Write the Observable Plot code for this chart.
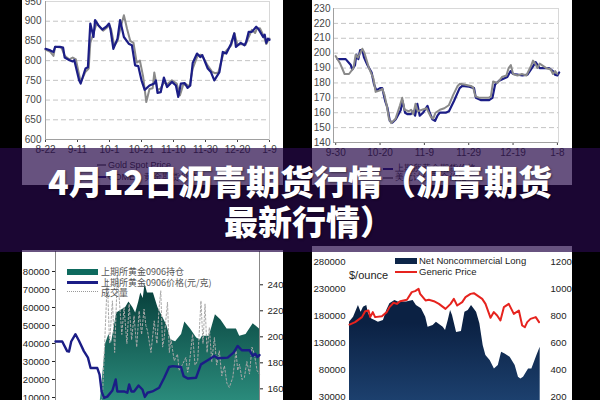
<!DOCTYPE html>
<html><head><meta charset="utf-8">
<script src="https://cdn.jsdelivr.net/npm/d3@7"></script>
<script src="https://cdn.jsdelivr.net/npm/@observablehq/plot@0.6"></script>
<style>
html,body{margin:0;padding:0;background:#000;}
#root{position:relative;width:600px;height:400px;overflow:hidden;background:#000;font-family:"Liberation Sans",Arial,sans-serif;}
.panel{position:absolute;background:#fff;overflow:hidden;}
.panel svg{position:absolute;left:0;top:0;}
.lg{position:absolute;font-size:9px;color:#333;white-space:nowrap;line-height:10px;}
.sw{position:absolute;}
#overlay{position:absolute;left:0;top:148px;width:600px;height:104px;background:rgba(38,8,72,0.7);}
#title{position:absolute;left:0;top:161px;width:600px;text-align:center;color:#fff;font-family:"Noto Sans CJK SC","Noto Sans",sans-serif;font-weight:900;font-size:34px;line-height:40px;text-shadow:1px 1px 2px rgba(0,0,0,0.45);}
#title .l2{position:relative;left:9px;}
</style></head>
<body><div id="root">
<div class="panel" id="p1" style="left:22px;top:0;width:261px;height:185px;"></div>
<div class="panel" id="p2" style="left:312px;top:0;width:260px;height:185px;"></div>
<div class="panel" id="p3" style="left:22px;top:250px;width:261px;height:150px;"></div>
<div class="panel" id="p4" style="left:312px;top:246px;width:260px;height:154px;"></div>
<div id="overlay"></div>
<div id="title">4月12日沥青期货行情（沥青期货<br><span class="l2">最新行情）</span></div>
</div>
<script>
// ---------- Panel 1 (top-left): gold price, 8-22 .. 1-9 ----------
const p1TickDays = [0, 20, 40, 60, 80, 100, 120, 140];
const p1TickLabels = ["8-22", "9-11", "10-1", "10-21", "11-10", "11-30", "12-20", "1-9"];
const p1YTicks = [600, 650, 700, 750, 800, 850, 900, 950];
const p1BlueDay = [0,3,5,6,9,11,12,15,17,18,21,22,25,26.5,28,30,31,33,35.5,38,39.7,40.7,42.4,45,46.6,49,52,54,56,58,60,62,65,68,69,70,72,74,76,79,81.5,83,84.6,87,88.8,90.5,92,94.7,96.7,98,101.4,103.4,105.5,108.7,110.8,113,116,118,119,122,124.4,125.4,127,129,131.7,133,136,137,138,139,140];
const p1BlueVal = [830,826,822,835,835,833,808,801,798,801,750,742,780,783,894,860,903,890,879,886,894,877,830,856,903,860,843,839,788,786,750,726,737,742,750,718,720,757,733,746,737,708,742,743,731,737,794,818,809,814,780,771,750,771,822,818,843,869,835,845,839,847,873,873,886,881,860,866,845,856,853];
const p1GrayDay = [0,3,5,6,10,12,15,17,19,22,25,27,28,30,32,34,36,38,40,41,43,45,47,49,51,53,55,57,59,61,63,65,67,68,70,72,74,76,79,82,84,86,88,90,92,95,97,99,101,104,106,108,111,113,116,118,120,122,125,127,129,131,132,134,136,137,138,139,140];
const p1GrayVal = [828,822,812,835,833,812,803,808,803,745,772,780,845,870,895,885,876,882,890,880,838,850,885,915,880,850,845,795,800,760,695,728,730,770,725,730,745,740,750,742,712,738,740,735,780,812,815,805,790,772,768,770,815,825,838,870,840,842,840,860,878,870,880,882,866,855,842,850,856];

// ---------- Panel 2 (top-right): 9-30 .. 1-8 ----------
const p2TickDays = [0, 20, 40, 60, 80, 100];
const p2TickLabels = ["9-30", "10-20", "11-9", "11-29", "12-19", "1-8"];
const p2YTicks = [140, 150, 160, 170, 180, 190, 200, 210, 220, 230];
const p2BlueDay = [0.8,1.5,4.5,6.8,7.5,8.7,9.3,10.2,11,12,12.8,14.3,16.2,17.3,18.3,20,21,22.3,23.3,24.4,25.6,27.1,29.3,30.1,31.3,32.3,33.8,35,35.8,36.8,37.9,39.4,41.4,42.4,43.6,44.8,45.9,46.9,49.6,51.1,53.4,55.9,57.1,60.2,62.4,63.2,65.4,69.2,70.7,71.9,73.7,75.9,77.4,78.9,80,82,84.2,86.5,88.7,90.2,92,96.2,98,98.9,100,100.8];
const p2BlueVal = [196,196,196,192,189,192,199,196,202,202,197,192,187,179,175,176.5,176.5,168,163.5,154.5,153.4,155.6,161.7,168,160,159,159,161,158,166,158,160,164.6,160,155.6,154.5,158,160,160,161,168,176.5,178,177.5,176.5,170,168.5,168.5,170,179,181.5,183,184,188,186,185.6,185,185.6,190.5,194,190,190,188,185.6,185,187];
const p2GrayDay = [0,2,4,6,8,9,10,11,12,13,15,17,18,20,21,22,23,24,25,27,29,30,31,33,34,35,36,37,39,41,42,43,44,45,47,49,51,53,55,56,58,61,62,63,65,69,70,71,73,75,77,78,79,80,82,84,86,88,89,90,91,92,95,97,98,99,100];
const p2GrayVal = [198,193,186,186,190,199,197,200,203,200,190,183,174,175,176,172,165,156,153,156,165,170,162,161,162,159,166,161,162,163,160,157,156,160,162,163,165,172,178,179.5,179,178,177,171,170,170,171,181,180,184,185,190,192,186,185,186,185,191,195,193,190,193,190,189,186,188,186];

// ---------- Panel 3 (bottom-left): SHFE gold 0906 ----------
const p3LeftTicks = [10000, 20000, 30000, 40000, 50000, 60000, 70000, 80000];
const p3RightTicks = [160, 180, 200, 220, 240];
const p3OIx = [21.3,24.6,26.2,27.4,28.5,30,31.6,34.4,36,37.9,39.3,40.8,41.8,43,43.9,45.1,48,50.2,54.6,56.6,58.9,61.8,63.4,66.2,69.2,71,72,75.4,78.4,81.1,84.1,88.7,90.3,93.4,96.9,99,100];
const p3OIy = [0,40000,45000,40000,47000,57000,58000,60000,63000,60000,57000,63000,68000,65000,73000,68000,68000,60000,50000,42000,41000,45000,52000,48000,43000,42000,44000,44000,56000,53000,48000,48000,44000,45000,51000,49000,48000];
const p3Px = [0,3.3,5.7,6.6,7.7,9.8,11.5,13.9,15.9,17.2,18.9,20.5,21.6,22.6,23.8,25.4,27.9,29.5,30.3,33.6,35.2,36.1,37.2,38.5,40.7,42.6,43.8,45.1,47.5,50.8,53.3,55.7,57.4,61.5,62.8,64.8,68.9,71.3,74.6,77.9,79.5,84.4,87.4,89.3,91.3,95.1,96.7,97.9,98.9,100];
const p3Py = [196.4,196.4,189,188.6,196.4,202,197,189,184,176,176,176,171,158,153,154,158.7,167.2,158,158,157,163.4,158,158,162.6,159.5,153.8,157,158,160.8,168.5,176.8,177.5,176.8,169.8,168,168.5,178.8,182,185.3,183.5,184,188,193,189.7,189.7,185.3,187,184.5,186];
const p3Vx = [22,23,25.4,26.5,27.9,29,30.3,31.1,32.5,33.6,35,36.1,37.3,38.5,39.8,41,42.2,43.4,44.3,45.1,46.8,48.4,49.7,50.8,51.6,52.5,53.3,54.9,55.8,56.6,58.2,59.8,60.6,61.5,63.9,64.8,65.6,67.2,68.4,69.7,71.3,72.3,73.3,74.3,75.4,76.6,77.9,79,80.3,81.5,82.8,84,85.2,86.9,88.5,89.3,90.2,91.4,92.6,93.8,95.1,96.3,97.5,98.8,100];
const p3Vy = [8000,10000,75700,40000,63700,35000,77600,67400,45000,60000,40000,61900,42000,55400,38000,58100,45000,59100,50000,47000,35000,52600,40000,60000,69300,38000,43300,63000,35000,42400,30400,34100,25000,26700,32200,24000,28500,45200,28000,30400,63700,40000,62000,35000,48900,30000,43300,28000,35900,22000,27600,18000,15600,21100,35900,25000,28500,20000,21100,30000,23000,38000,34100,25000,23000];
const p3Legend = ["上期所黄金0906持仓", "上期所黄金0906价格(元/克)", "成交量"];

// ---------- Panel 4 (bottom-right): CFTC net long vs price ----------
const p4LeftTicks = [30000, 80000, 130000, 180000, 230000, 280000];
const p4RightTicks = [200, 400, 600, 800, 1000, 1200];
const p4Ax = [0,2.1,4.6,6,7.2,8.9,9.8,11.5,13.2,14.9,17.5,19.2,20.8,23.4,25.1,29.4,32.8,34.5,37.1,39.3,40.5,43.1,44.8,48.3,49.5,50.9,52.1,53.1,55.2,57.7,59.5,61.2,62.9,65.5,67.2,68.9,70.3,72.5,74.7,76.7,78.4,80.2,82.8,85.4,87.1,88.3,89.7,92.3,94,96.6,98.3];
const p4Ay = [168900,178000,199800,187400,196700,199800,184300,175000,172000,168900,172000,190500,202800,209000,206000,206000,209000,199800,193600,178000,159600,162700,168900,159600,153500,172000,190500,181200,150000,151600,187400,190500,199800,187400,165800,125700,107200,98000,82500,88600,113300,110000,104000,88600,67000,64000,67000,82500,82500,107200,122600];
const p4Px = [0,2.9,6.4,8.1,9.8,10.7,12,13.2,16.7,19.2,20.6,22.7,24.4,26.1,29.6,32.1,33.8,35.6,36.4,39.2,40.9,43.5,46.1,49.5,52.1,53.8,55.5,58.1,59.8,62.4,64.1,68.4,70.1,72.7,74.4,76.1,77.8,79.6,82.1,84.7,87.3,89,90.4,91.6,93.3,96,97.7];
const p4Py = [738,756,793,837,842,793,830,793,800,830,867,899,891,911,921,978,985,1002,965,916,921,911,891,854,891,928,879,904,941,965,970,928,891,788,830,805,768,867,891,817,842,731,719,756,780,793,756,817,872,842,842];
const p4Legend = ["Net Noncommercial Long", "Generic Price"];

// ---------- helpers ----------
const baseStyle = {background: "transparent", fontFamily: "Liberation Sans, Arial, sans-serif", fontSize: "10px", color: "#444", overflow: "visible"};
const lowStyle = {...baseStyle, fontSize: "9.6px", color: "#222"};
const plain = d3.format("d");
function lab(ticks, labels) { return d => labels[ticks.indexOf(d)] ?? ""; }
function addDefs(svg, html) { svg.insertAdjacentHTML("afterbegin", "<defs>" + html + "</defs>"); }
function put(id, node) { document.getElementById(id).appendChild(node); }
function legend(id, items) {
  const el = document.getElementById(id);
  for (const it of items) {
    const d = document.createElement("div");
    d.className = it.text ? "lg" : "sw";
    d.style.cssText += it.css;
    if (it.text) d.textContent = it.text;
    el.appendChild(d);
  }
}

// ---------- Panel 1 ----------
const s1 = Plot.plot({
  width: 261, height: 160, marginLeft: 23, marginRight: 14, marginTop: 1, marginBottom: 21,
  style: baseStyle,
  x: {domain: [0, 140], ticks: p1TickDays, tickFormat: lab(p1TickDays, p1TickLabels), tickSize: 3, tickPadding: 3, label: null},
  y: {domain: [600, 950], ticks: p1YTicks, tickSize: 0, tickPadding: 4, label: null},
  marks: [
    Plot.ruleY(p1YTicks.filter(v => v > 600), {stroke: "#c4c4c4", strokeDasharray: "5,3"}),
    Plot.frame({stroke: "#d8d8d8"}),
    Plot.ruleX([0], {stroke: "#a0a0a0"}),
    Plot.ruleY([600], {stroke: "#a0a0a0"}),
    Plot.line(p1GrayDay, {x: d => d, y: (d, i) => p1GrayVal[i], stroke: "#8a8a8a", strokeWidth: 2}),
    Plot.line(p1BlueDay, {x: d => d, y: (d, i) => p1BlueVal[i], stroke: "#1b1d86", strokeWidth: 2.2})
  ]
});
put("p1", s1);
legend("p1", [
  {css: "left:75px;top:164px;width:9px;height:2px;background:#8a8a8a;"},
  {text: "Gold Spot Price", css: "left:86px;top:160px;"},
  {css: "left:75px;top:176px;width:9px;height:2px;background:#1b1d86;"},
  {text: "COMEX 黄金期货价格", css: "left:86px;top:172px;"}
]);

// ---------- Panel 2 ----------
const s2 = Plot.plot({
  width: 260, height: 160, marginLeft: 21, marginRight: 14, marginTop: 8, marginBottom: 18,
  style: baseStyle,
  x: {domain: [-1, 100.5], ticks: p2TickDays, tickFormat: lab(p2TickDays, p2TickLabels), tickSize: 3, tickPadding: 3, label: null},
  y: {domain: [140, 230], ticks: p2YTicks, tickSize: 0, tickPadding: 3, label: null},
  marks: [
    Plot.ruleY(p2YTicks.filter(v => v > 140), {stroke: "#c4c4c4", strokeDasharray: "5,3"}),
    Plot.frame({stroke: "#d8d8d8"}),
    Plot.ruleX([-1], {stroke: "#a0a0a0"}),
    Plot.ruleY([140], {stroke: "#a0a0a0"}),
    Plot.line(p2BlueDay, {x: d => d, y: (d, i) => p2BlueVal[i], stroke: "#1b1d86", strokeWidth: 2.2}),
    Plot.line(p2GrayDay, {x: d => d, y: (d, i) => p2GrayVal[i], stroke: "#8a8a8a", strokeWidth: 2})
  ]
});
put("p2", s2);
legend("p2", [
  {css: "left:71px;top:168px;width:10px;height:2px;background:#1b1d86;"},
  {text: "上期所黄金期货价格", css: "left:83px;top:163px;"},
  {css: "left:71px;top:177px;width:10px;height:2px;background:#8a8a8a;"},
  {text: "美元计价黄金价格", css: "left:83px;top:172px;"}
]);

// ---------- Panel 3 ----------
const s3a = Plot.plot({
  width: 261, height: 166, marginLeft: 33, marginRight: 24, marginTop: 1, marginBottom: 1,
  style: lowStyle,
  x: {domain: [0, 100], axis: null},
  y: {domain: [0, 91111], ticks: p3LeftTicks, tickFormat: plain, tickSize: 3, tickPadding: 3, label: null},
  marks: [
    Plot.ruleX([0], {stroke: "#888"}),
    Plot.areaY(p3OIx, {x: d => d, y: (d, i) => p3OIy[i], fill: "url(#tealGrad)"}),
    Plot.line(p3Vx, {x: d => d, y: (d, i) => p3Vy[i], stroke: "#a8a8a8", strokeWidth: 1, strokeDasharray: "2,2"})
  ]
});
addDefs(s3a, '<linearGradient id="tealGrad" x1="0" y1="0" x2="0" y2="1"><stop offset="0.1" stop-color="#0a4540"/><stop offset="1" stop-color="#2f9584"/></linearGradient>');
put("p3", s3a);
const s3b = Plot.plot({
  width: 261, height: 166, marginLeft: 33, marginRight: 24, marginTop: 1, marginBottom: 1,
  style: lowStyle,
  x: {domain: [0, 100], axis: null},
  y: {domain: [139.5, 265.6], ticks: p3RightTicks, tickFormat: plain, axis: "right", tickSize: 3, tickPadding: 5, label: null},
  marks: [
    Plot.ruleX([100], {stroke: "#888"}),
    Plot.line(p3Px, {x: d => d, y: (d, i) => p3Py[i], stroke: "#1b1d86", strokeWidth: 2.4})
  ]
});
put("p3", s3b);
legend("p3", [
  {css: "left:45px;top:19px;width:31px;height:6px;background:#0e6a5e;"},
  {text: p3Legend[0], css: "left:79px;top:17px;font-family:'Noto Sans CJK SC';color:#555;"},
  {css: "left:45px;top:31px;width:31px;height:3px;background:#1b1d86;"},
  {text: p3Legend[1], css: "left:79px;top:28px;font-family:'Noto Sans CJK SC';color:#555;"},
  {css: "left:45px;top:41px;width:31px;height:0;border-top:1px dotted #999;"},
  {text: p3Legend[2], css: "left:79px;top:38px;font-family:'Noto Sans CJK SC';color:#555;"}
]);

// ---------- Panel 4 ----------
const s4a = Plot.plot({
  width: 260, height: 168, marginLeft: 37, marginRight: 29, marginTop: 1, marginBottom: 1,
  style: lowStyle,
  x: {domain: [0, 100], axis: null},
  y: {domain: [0, 307000], ticks: p4LeftTicks, tickFormat: plain, tickSize: 0, tickPadding: 4, label: null},
  marks: [
    Plot.areaY(p4Ax, {x: d => d, y: (d, i) => p4Ay[i], fill: "url(#navyGrad)"})
  ]
});
addDefs(s4a, '<linearGradient id="navyGrad" x1="0" y1="0" x2="0" y2="1"><stop offset="0.2" stop-color="#0b2143"/><stop offset="1" stop-color="#1f4575"/></linearGradient>');
put("p4", s4a);
const s4b = Plot.plot({
  width: 260, height: 168, marginLeft: 37, marginRight: 29, marginTop: 1, marginBottom: 1,
  style: lowStyle,
  x: {domain: [0, 100], axis: null},
  y: {domain: [80, 1308], ticks: p4RightTicks, tickFormat: plain, axis: "right", tickSize: 0, tickPadding: 7, label: null},
  marks: [
    Plot.line(p4Px, {x: d => d, y: (d, i) => p4Py[i], stroke: "#e6231e", strokeWidth: 2})
  ]
});
put("p4", s4b);
legend("p4", [
  {css: "left:83px;top:12px;width:22px;height:6px;background:#0d2548;"},
  {text: p4Legend[0], css: "left:107px;top:10px;font-size:9.5px;color:#222;"},
  {css: "left:83px;top:25px;width:22px;height:2px;background:#e6231e;"},
  {text: p4Legend[1], css: "left:107px;top:21px;font-size:9.5px;color:#222;"},
  {text: "$/ounce", css: "left:37px;top:23px;font-size:11px;color:#222;line-height:12px;"}
]);
</script>
</body></html>
